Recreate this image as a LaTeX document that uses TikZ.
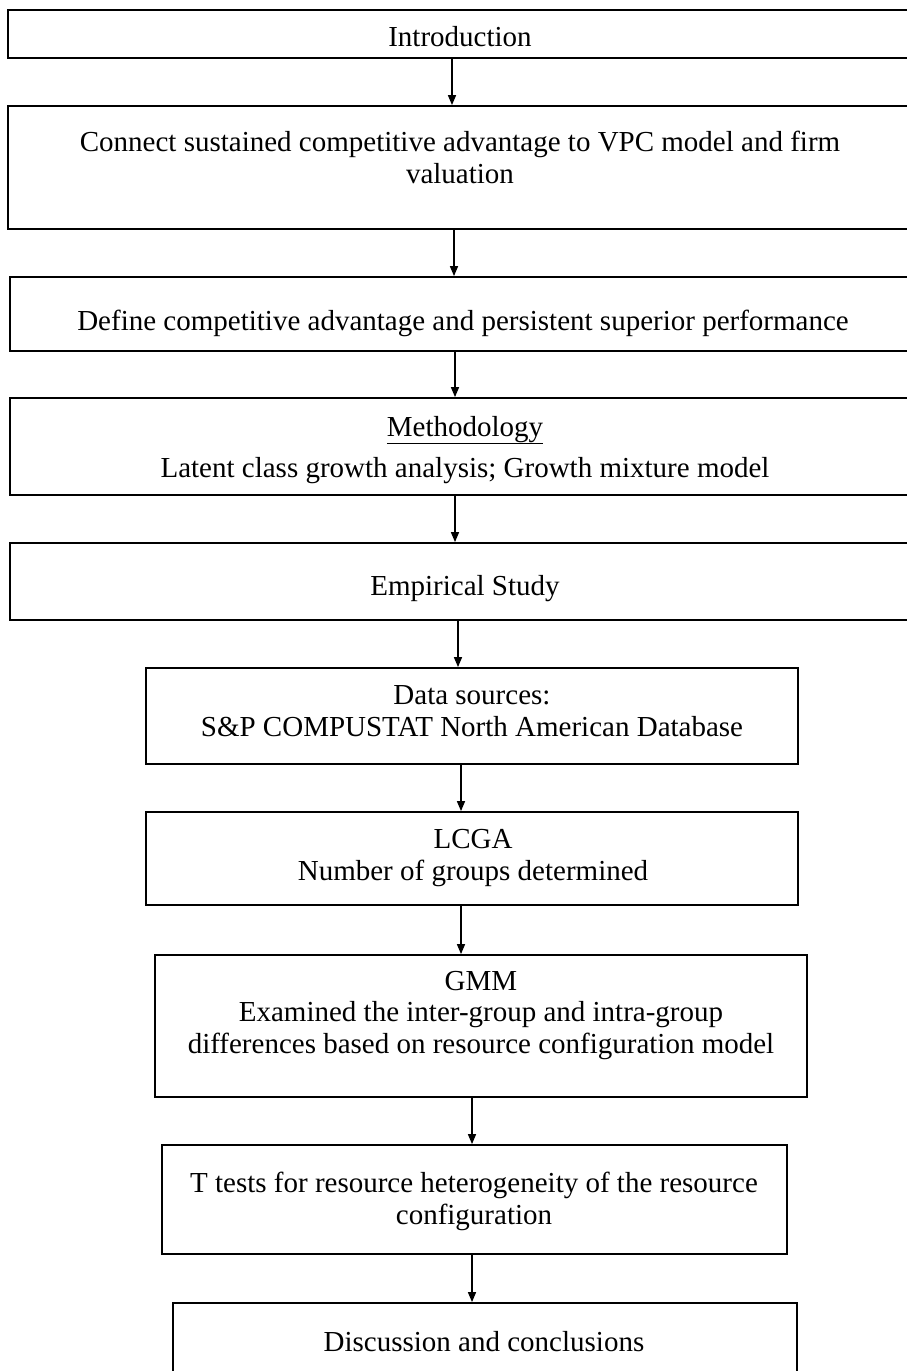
\documentclass[tikz,border=0pt]{standalone}
\usepackage{fontspec}
\setmainfont{Liberation Serif}
\usetikzlibrary{arrows.meta}
\begin{document}
\begin{tikzpicture}[x=1pt,y=-1pt,
  box/.style={draw=black,line width=1.8pt,rectangle,inner sep=0pt},
  txt/.style={inner sep=0pt,anchor=base,align=center,font=\fontsize{29}{31.5}\selectfont},
  arr/.style={line width=1.5pt,-{Triangle[length=10pt,width=8pt]}}]
\useasboundingbox (0,0) rectangle (907,1371);
% boxes
\node[box,minimum width=904pt,minimum height=48pt] (b1) at (460,34) {};
\node[box,minimum width=904pt,minimum height=123pt] (b2) at (460,167.5) {};
\node[box,minimum width=910pt,minimum height=74pt] (b3) at (465,314) {};
\node[box,minimum width=910pt,minimum height=97pt] (b4) at (465,446.5) {};
\node[box,minimum width=910pt,minimum height=77pt] (b5) at (465,581.5) {};
\node[box,minimum width=652pt,minimum height=96pt] (b6) at (472,716) {};
\node[box,minimum width=652pt,minimum height=93pt] (b7) at (472,858.5) {};
\node[box,minimum width=652pt,minimum height=142pt] (b8) at (481,1026) {};
\node[box,minimum width=625pt,minimum height=109pt] (b9) at (474.5,1199.5) {};
\node[box,minimum width=624pt,minimum height=97pt] (b10) at (485,1351.5) {};
% texts (base = baseline of the last line)
\node[txt] (t1) at (460,46) {Introduction};
\node[txt] (t2) at (460,183) {Connect sustained competitive advantage to VPC model and firm\\valuation};
\node[txt] (t3) at (463,330) {Define competitive advantage and persistent superior performance};
\node[txt] (t4) at (465,477) {\underline{Methodology}\\[9.5pt]Latent class growth analysis; Growth mixture model};
\node[txt] (t5) at (465,595) {Empirical Study};
\node[txt] (t6) at (472,736) {Data sources:\\S\&P COMPUSTAT North American Database};
\node[txt] (t7) at (473,880) {LCGA\\Number of groups determined};
\node[txt] (t8) at (481,1053) {GMM\\Examined the inter-group and intra-group\\differences based on resource configuration model};
\node[txt] (t9) at (474,1224) {T tests for resource heterogeneity of the resource\\configuration};
\node[txt] (t10) at (484,1351) {Discussion and conclusions};
% arrows
\draw[arr] (b1.south -| 452,0) -- (b2.north -| 452,0);
\draw[arr] (b2.south -| 454,0) -- (b3.north -| 454,0);
\draw[arr] (b3.south -| 455,0) -- (b4.north -| 455,0);
\draw[arr] (b4.south -| 455,0) -- (b5.north -| 455,0);
\draw[arr] (b5.south -| 458,0) -- (b6.north -| 458,0);
\draw[arr] (b6.south -| 461,0) -- (b7.north -| 461,0);
\draw[arr] (b7.south -| 461,0) -- (b8.north -| 461,0);
\draw[arr] (b8.south -| 472,0) -- (b9.north -| 472,0);
\draw[arr] (b9.south -| 472,0) -- (b10.north -| 472,0);
\end{tikzpicture}
\end{document}
